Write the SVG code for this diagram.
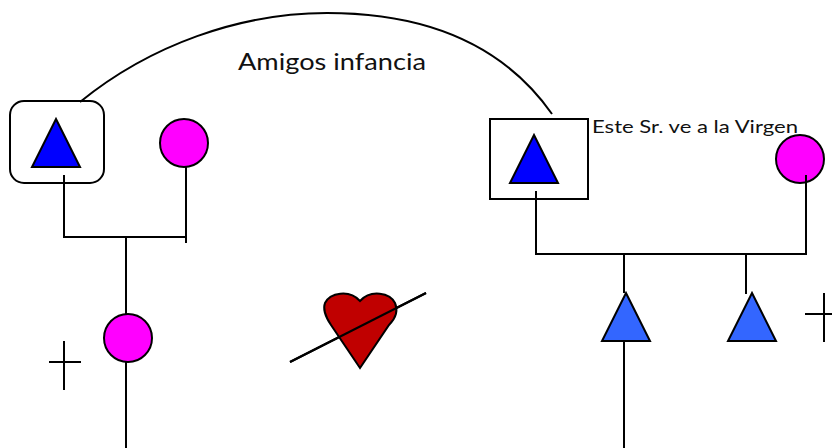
<svg xmlns="http://www.w3.org/2000/svg" width="832" height="448" viewBox="0 0 832 448">
<style>
.l{fill:none;stroke:#000;stroke-width:2}
.s{stroke:#000;stroke-width:2;stroke-linejoin:miter}
.m{fill:#f0f}
.b{fill:#00f}
.c{fill:#36f}
text{font-family:"Lato","Open Sans",sans-serif;fill:#111}
</style>
<rect width="832" height="448" fill="#fff"/>
<g id="connectors">
<path class="l" d="M80 102C150 45 240 13 327 13C420 13 500 40 552 114"/>
<path class="l" d="M64 175V237H186M186 167V243M126 237V315M126 362V448"/>
<path class="l" d="M536 191V254H806V175M624 254V293M624 341V448M746 254V294"/>
<path class="l" d="M290 362L426 293"/>
</g>
<g id="left-square"><rect class="l" x="10" y="101" width="94" height="82" rx="14"/></g>
<g id="left-triangle"><path class="s b" d="M56 119L80 167H32Z"/></g>
<g id="left-circle"><circle class="s m" cx="184" cy="143" r="24"/></g>
<g id="child-circle"><circle class="s m" cx="128" cy="338" r="24"/></g>
<g id="left-cross"><path class="l" d="M64 341V390M49 362H81"/></g>
<g id="heart"><path class="s" fill="#c00000" d="M360 368L331 325C325 316 323 308 325 303C330 293 349 289 360 301C371 289 390 293 395 303C398 310 396 318 389 325Z"/></g>
<path class="l" d="M290 362L426 293"/>
<g id="right-square"><rect class="l" x="490" y="119" width="98" height="80"/></g>
<g id="right-triangle"><path class="s b" d="M534 135L558 183H510Z"/></g>
<g id="right-circle"><circle class="s m" cx="800" cy="159" r="24"/></g>
<path class="l" d="M806 175V254"/>
<g id="child-triangle-1"><path class="s c" d="M626 293L650 341H602Z"/></g>
<g id="child-triangle-2"><path class="s c" d="M752 293L776 341H728Z"/></g>
<g id="right-cross"><path class="l" d="M824 293V342M805 314H832"/></g>
<g id="label-amigos"><text x="238" y="70" font-size="24" textLength="188" lengthAdjust="spacingAndGlyphs">Amigos infancia</text></g>
<g id="label-virgen"><text x="592" y="133" font-size="18" textLength="206" lengthAdjust="spacingAndGlyphs">Este Sr. ve a la Virgen</text></g>
</svg>
